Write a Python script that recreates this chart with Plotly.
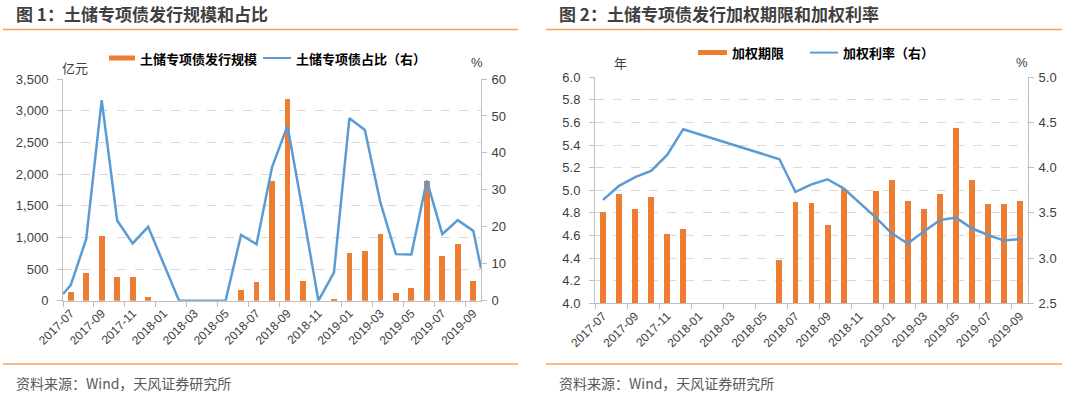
import plotly.graph_objects as go

# ---------------- data ----------------
months = ["2017-07", "2017-08", "2017-09", "2017-10", "2017-11", "2017-12",
          "2018-01", "2018-02", "2018-03", "2018-04", "2018-05", "2018-06",
          "2018-07", "2018-08", "2018-09", "2018-10", "2018-11", "2018-12",
          "2019-01", "2019-02", "2019-03", "2019-04", "2019-05", "2019-06",
          "2019-07", "2019-08", "2019-09"]

# 图1: 土储专项债发行规模 (亿元)
issue_amount = [142, 432, 1026, 374, 368, 53,
                0, 0, 0, 0, 0, 163,
                290, 1895, 3184, 310, 0, 20,
                758, 789, 1053, 116, 195, 1895,
                710, 889, 305]
# 图1: 土储专项债占比 (%)
issue_share = [4.2, 16.7, 54.3, 21.7, 15.5, 20.0,
               10.0, 0, 0, 0, 0, 17.8,
               15.3, 36.1, 47.3, 24.0, 0, 7.6,
               49.4, 46.2, 26.6, 12.6, 12.5, 32.5,
               18.0, 21.8, 18.9]
share_edge_left = 1.8    # line value where it meets the left axis
share_edge_right = 8.8   # line value where it meets the right axis

# 图2: 加权期限 (年)
term_years = [4.81, 4.97, 4.835, 4.945, 4.615, 4.66,
              None, None, None, None, None, 4.383,
              4.897, 4.885, 4.693, 5.012, None, 4.997,
              5.091, 4.909, 4.835, 4.965, 5.549, 5.091,
              4.876, 4.876, 4.903]
# 图2: 加权利率 (%)
term_rate = [3.644, 3.799, 3.895, 3.965, 4.142, 4.426,
             None, None, None, None, None, 4.094,
             3.732, 3.815, 3.872, 3.772, None, 3.45,
             3.274, 3.162, 3.293, 3.42, 3.448, 3.33,
             3.256, 3.194, 3.212]

tick_labels = months[::2]

# ---------------- styling ----------------
W, H = 1080, 394
ORANGE = "#ED7D31"
BLUE = "#5B9BD5"
AXIS = "#BFBFBF"
GRID = "#D9D9D9"
TXT = "#404040"
SEP = "#F4A15D"
NUM_FONT = "Liberation Sans, Arial, Noto Sans CJK SC"
CJK_FONT = "Noto Sans CJK SC, Liberation Sans"


def px(x):
    return x / W


def py(y):
    return 1 - y / H


idx = list(range(len(months)))
tick_idx = idx[::2]
boundaries = [i - 0.5 for i in tick_idx]
xr = [-0.5, len(months) - 0.5]

fig = go.Figure()

fig.add_trace(go.Bar(x=idx, y=issue_amount, xaxis="x", yaxis="y", width=0.37,
                     marker=dict(color=ORANGE, line=dict(width=0)),
                     name="土储专项债发行规模"))
fig.add_trace(go.Scatter(x=[xr[0]] + idx + [xr[1]],
                         y=[share_edge_left] + issue_share + [share_edge_right],
                         xaxis="x", yaxis="y2", mode="lines",
                         line=dict(color=BLUE, width=2.5),
                         name="土储专项债占比（右）"))
fig.add_trace(go.Bar(x=idx, y=term_years, xaxis="x2", yaxis="y3", width=0.37,
                     marker=dict(color=ORANGE, line=dict(width=0)),
                     name="加权期限"))
fig.add_trace(go.Scatter(x=idx, y=term_rate, xaxis="x2", yaxis="y4",
                         mode="lines", connectgaps=True,
                         line=dict(color=BLUE, width=2.5),
                         name="加权利率（右）"))

tickfont_y = dict(family=NUM_FONT, size=13, color=TXT)
tickfont_x = dict(family=NUM_FONT, size=12, color=TXT)


def xaxis_cfg(domain, anchor):
    return dict(domain=domain, anchor=anchor, range=xr, tickmode="array",
                tickvals=tick_idx, ticktext=tick_labels, tickangle=-45,
                ticks="", showline=True, linecolor=AXIS, linewidth=1,
                showgrid=False, zeroline=False, tickfont=tickfont_x,
                automargin=False,
                minor=dict(tickmode="array", tickvals=boundaries, ticks="outside",
                           ticklen=5, tickcolor=AXIS, showgrid=False))


def yaxis_left(domain, anchor, rng, dtick, fmt):
    return dict(domain=domain, anchor=anchor, range=rng, dtick=dtick,
                tickformat=fmt, showgrid=True, gridcolor=GRID, griddash="dash",
                gridwidth=1, showline=True, linecolor=AXIS, linewidth=1,
                ticks="outside", ticklen=5, tickcolor=AXIS, zeroline=False,
                tickfont=tickfont_y, ticklabelstandoff=6, automargin=False)


def yaxis_right(overlay, anchor, rng, dtick, fmt):
    return dict(overlaying=overlay, anchor=anchor, side="right", range=rng,
                dtick=dtick, tickformat=fmt, showgrid=False, showline=True,
                linecolor=AXIS, linewidth=1, ticks="outside", ticklen=5,
                tickcolor=AXIS, zeroline=False, tickfont=tickfont_y,
                ticklabelstandoff=2, automargin=False)


dom_x1 = [px(63), px(481)]
dom_y1 = [py(300.7), py(79)]
dom_x2 = [px(595), px(1028)]
dom_y2 = [py(303.3), py(77.3)]

fig.update_layout(
    template="none",
    width=W, height=H, margin=dict(l=0, r=0, t=0, b=0, autoexpand=False),
    paper_bgcolor="white", plot_bgcolor="white", showlegend=False,
    bargap=0,
    xaxis=xaxis_cfg(dom_x1, "y"),
    yaxis=yaxis_left(dom_y1, "x", [0, 3500], 500, ","),
    yaxis2=yaxis_right("y", "x", [0, 60], 10, "d"),
    xaxis2=xaxis_cfg(dom_x2, "y3"),
    yaxis3=yaxis_left(dom_y2, "x2", [4, 6], 0.2, ".1f"),
    yaxis4=yaxis_right("y3", "x2", [2.5, 5], 0.5, ".1f"),
)

shapes = []
annotations = []


def text(x, y, s, size=13, color=TXT, bold=False, xanchor="left", family=CJK_FONT):
    annotations.append(dict(
        x=px(x), y=py(y), xref="paper", yref="paper", showarrow=False,
        text=f"<b>{s}</b>" if bold else s, xanchor=xanchor, yanchor="middle",
        font=dict(family=family, size=size, color=color)))


def hline(x0, x1, y, color, width):
    shapes.append(dict(type="line", xref="paper", yref="paper",
                       x0=px(x0), x1=px(x1), y0=py(y), y1=py(y),
                       line=dict(color=color, width=width)))


def rect(x0, x1, y0, y1, color):
    shapes.append(dict(type="rect", xref="paper", yref="paper",
                       x0=px(x0), x1=px(x1), y0=py(y1), y1=py(y0),
                       fillcolor=color, line=dict(width=0)))


# titles
text(14, 13.5, "图 1：土储专项债发行规模和占比", size=17, color=TXT, bold=True)
text(557, 14, "图 2：土储专项债发行加权期限和加权利率", size=17, color=TXT, bold=True)
# separators
hline(3, 518, 29.4, SEP, 1.5)
hline(546, 1062, 29.6, SEP, 1.5)
hline(3, 518, 364, SEP, 1.5)
hline(546, 1062, 364, SEP, 1.5)
# footers
text(14, 383, "资料来源：Wind，天风证券研究所", size=14, color="#595959")
text(557, 383, "资料来源：Wind，天风证券研究所", size=14, color="#595959")

# legend chart 1
rect(109, 135, 55.5, 60.5, ORANGE)
text(138, 58, "土储专项债发行规模", size=13, color="#000000", bold=True)
hline(263, 291, 58, BLUE, 2)
text(294, 58, "土储专项债占比（右）", size=13, color="#000000", bold=True)
# legend chart 2
rect(698, 727, 50, 55, ORANGE)
text(730, 52.6, "加权期限", size=13, color="#000000", bold=True)
hline(810, 838, 52.6, BLUE, 2)
text(841, 52.6, "加权利率（右）", size=13, color="#000000", bold=True)

# unit labels
text(60, 67, "亿元", size=13)
text(477, 62, "%", size=13, xanchor="center", family=NUM_FONT)
text(612, 63, "年", size=13)
text(1022, 62, "%", size=13, xanchor="center", family=NUM_FONT)

fig.update_layout(shapes=shapes, annotations=annotations)

fig.write_html("out.html",
               config={"displayModeBar": False, "staticPlot": True},
               post_script="document.body.style.margin='0';"
                           "document.body.style.overflow='hidden';")
